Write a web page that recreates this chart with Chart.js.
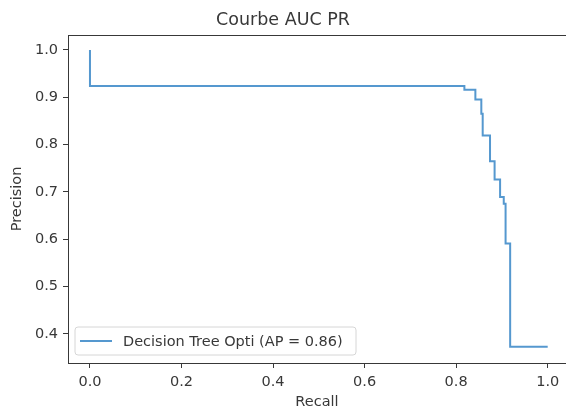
<!DOCTYPE html>
<html>
<head>
<meta charset="utf-8">
<script src="https://cdn.jsdelivr.net/npm/chart.js@4/dist/chart.umd.min.js"></script>
<style>
  html, body { margin: 0; padding: 0; background: #fff; overflow: hidden; }
  #wrap { width: 566px; height: 409px; }
</style>
</head>
<body>
<div id="wrap"><canvas id="c" width="566" height="409"></canvas></div>
<script>
// courbe precision / rappel
var recall    = [0.0, 0.0,   0.818, 0.842, 0.855, 0.858, 0.874, 0.884, 0.896, 0.904, 0.908, 0.918, 1.0];
var precision = [1.0, 0.924, 0.916, 0.895, 0.865, 0.819, 0.765, 0.726, 0.689, 0.675, 0.591, 0.373, 0.373];
var xTicks = [0.0, 0.2, 0.4, 0.6, 0.8, 1.0];
var yTicks = [0.4, 0.5, 0.6, 0.7, 0.8, 0.9, 1.0];
var seriesLabel = 'Decision Tree Opti (AP = 0.86)';
var titleText = 'Courbe AUC PR';

var FONT = 'DejaVu Sans';
var TXT = '#383838';
var FS = 14.5;

var points = recall.map(function (r, i) { return { x: r, y: precision[i] }; });

// ligne du haut + legende en bas a gauche, facon matplotlib
// (le bord droit du graphique d'origine est coupe par l'image)
var framePlugin = {
  id: 'frame',
  afterDatasetsDraw: function (chart) {
    var ctx = chart.ctx, a = chart.chartArea;
    ctx.save();
    ctx.strokeStyle = TXT;
    ctx.lineWidth = 1;
    ctx.beginPath();
    ctx.moveTo(a.left, a.top + 0.5);
    ctx.lineTo(chart.width, a.top + 0.5);
    ctx.stroke();

    // legend box
    var bx = 75, by = 327, bw = 281, bh = 28, r = 3;
    ctx.fillStyle = 'rgba(255,255,255,0.85)';
    ctx.strokeStyle = '#d6d6d6';
    ctx.beginPath();
    ctx.moveTo(bx + r, by);
    ctx.lineTo(bx + bw - r, by);
    ctx.quadraticCurveTo(bx + bw, by, bx + bw, by + r);
    ctx.lineTo(bx + bw, by + bh - r);
    ctx.quadraticCurveTo(bx + bw, by + bh, bx + bw - r, by + bh);
    ctx.lineTo(bx + r, by + bh);
    ctx.quadraticCurveTo(bx, by + bh, bx, by + bh - r);
    ctx.lineTo(bx, by + r);
    ctx.quadraticCurveTo(bx, by, bx + r, by);
    ctx.closePath();
    ctx.fill();
    ctx.stroke();

    var ds = chart.data.datasets[0];
    ctx.strokeStyle = ds.borderColor;
    ctx.lineWidth = ds.borderWidth;
    ctx.beginPath();
    ctx.moveTo(80, by + bh / 2);
    ctx.lineTo(112, by + bh / 2);
    ctx.stroke();

    ctx.fillStyle = TXT;
    ctx.font = FS + 'px "' + FONT + '"';
    ctx.textBaseline = 'middle';
    ctx.textAlign = 'left';
    ctx.fillText(ds.label, 123, by + bh / 2 + 1);
    ctx.restore();
  }
};

new Chart(document.getElementById('c'), {
  type: 'line',
  data: {
    datasets: [{
      label: seriesLabel,
      data: points,
      borderColor: '#5598cf',
      borderWidth: 2,
      pointRadius: 0,
      stepped: 'before',
      fill: false
    }]
  },
  options: {
    responsive: false,
    animation: false,
    layout: { padding: { left: 0, right: 0, top: 0, bottom: 0 } },
    plugins: {
      legend: { display: false },
      tooltip: { enabled: false },
      title: {
        display: true,
        text: titleText,
        color: TXT,
        font: { family: FONT, size: 17.5, weight: 'normal', lineHeight: 1.2 },
        padding: { top: 10, bottom: 4 }
      }
    },
    scales: {
      x: {
        type: 'linear',
        min: -0.048,
        max: 1.040,
        afterBuildTicks: function (s) { s.ticks = xTicks.map(function (v) { return { value: v }; }); },
        afterFit: function (s) { s.height = 46; },
        ticks: {
          color: TXT,
          font: { family: FONT, size: FS },
          padding: 6,
          maxRotation: 0,
          callback: function (v) { return Number(v).toFixed(1); }
        },
        grid: { drawOnChartArea: false, drawTicks: true, tickLength: 5, color: TXT },
        border: { display: true, color: TXT },
        title: {
          display: true,
          text: 'Recall',
          color: TXT,
          font: { family: FONT, size: FS, lineHeight: 1 },
          padding: { top: 0, bottom: 0 }
        }
      },
      y: {
        type: 'linear',
        min: 0.3385,
        max: 1.0315,
        afterBuildTicks: function (s) { s.ticks = yTicks.map(function (v) { return { value: v }; }); },
        afterFit: function (s) { s.width = 68; },
        ticks: {
          color: TXT,
          font: { family: FONT, size: FS },
          padding: 5,
          callback: function (v) { return Number(v).toFixed(1); }
        },
        grid: { drawOnChartArea: false, drawTicks: true, tickLength: 5, color: TXT },
        border: { display: true, color: TXT },
        title: {
          display: true,
          text: 'Precision',
          color: TXT,
          font: { family: FONT, size: FS, lineHeight: 1 },
          padding: { top: 10, bottom: 0 }
        }
      }
    }
  },
  plugins: [framePlugin]
});
</script>
</body>
</html>
